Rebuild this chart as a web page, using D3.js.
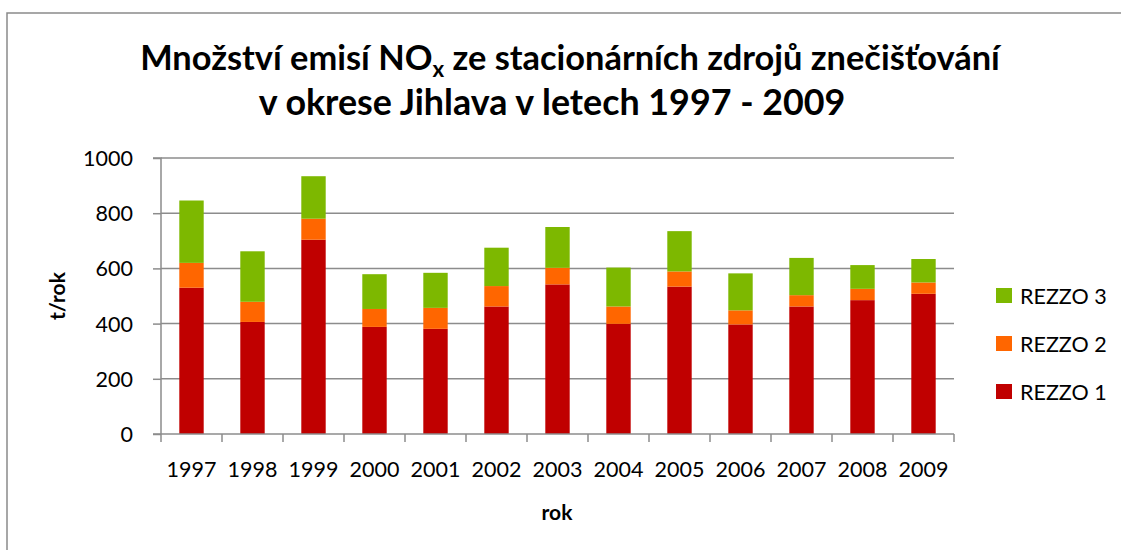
<!DOCTYPE html>
<html><head><meta charset="utf-8">
<script src="https://cdn.jsdelivr.net/npm/d3@7"></script>
<style>
html,body{margin:0;padding:0;background:#fff;}
text{font-family:Lato, "Open Sans", sans-serif;fill:#000;}
</style></head>
<body>
<svg id="chart" width="1121" height="550"></svg>
<script>
const years = ["1997","1998","1999","2000","2001","2002","2003","2004","2005","2006","2007","2008","2009"];
const rezzo1 = [530, 406, 704, 388, 381, 462, 542, 399, 534, 397, 462, 485, 508];
const rezzo2 = [90, 73, 76, 65, 76, 74, 60, 63, 55, 51, 41, 41, 41];
const rezzo3 = [226, 183, 154, 126, 127, 139, 148, 141, 146, 134, 135, 86, 85];
const seriesNames = ["REZZO 1", "REZZO 2", "REZZO 3"];
const seriesColors = ["#C00000", "#FF6600", "#7DB800"];
const yTicks = [0, 200, 400, 600, 800, 1000];

const svg = d3.select("#chart");
const W = 1121, H = 550;
const plot = {left: 161, right: 954, top: 158, bottom: 434};

// outer border
svg.append("path").attr("d", `M7,${H+2} L7,13 L${W+2},13`)
  .attr("fill", "none").attr("stroke", "#8a8a8a").attr("stroke-width", 1.5);

const x = d3.scaleBand().domain(years).range([plot.left, plot.right]).paddingInner(0.6).paddingOuter(0.3);
const xb = d3.scaleBand().domain(years).range([plot.left, plot.right]);
const y = d3.scaleLinear().domain([0, 1000]).range([plot.bottom, plot.top]);

// gridlines
svg.append("g").selectAll("line").data(yTicks.filter(d => d > 0)).join("line")
  .attr("x1", plot.left).attr("x2", plot.right)
  .attr("y1", d => y(d)).attr("y2", d => y(d))
  .attr("stroke", "#8c8c8c").attr("stroke-width", 1.5);

// stacked data
const table = years.map((yr, i) => ({year: yr, s0: rezzo1[i], s1: rezzo2[i], s2: rezzo3[i]}));
const stack = d3.stack().keys(["s0", "s1", "s2"])(table);

svg.append("g").selectAll("g").data(stack).join("g")
  .attr("fill", (d, i) => seriesColors[i])
  .selectAll("rect").data(d => d).join("rect")
  .attr("x", d => x(d.data.year))
  .attr("width", x.bandwidth())
  .attr("y", d => y(d[1]))
  .attr("height", d => y(d[0]) - y(d[1]));

// y axis
const yAxis = d3.axisLeft(y).tickValues(yTicks).tickSize(8).tickPadding(20).tickFormat(d3.format("d"));
const gy = svg.append("g").attr("transform", `translate(${plot.left},0)`).call(yAxis);
gy.select(".domain").attr("stroke", "#8c8c8c").attr("stroke-width", 1.5).attr("d", `M-8,${plot.top}H0V${plot.bottom}`);
gy.selectAll(".tick line").attr("stroke", "#8c8c8c").attr("stroke-width", 1.5);
gy.selectAll(".tick text").attr("font-size", 21.5).attr("font-family", "Lato").attr("fill", "#000").attr("dy", "0.35em");

// x axis: line and boundary ticks
const gx = svg.append("g");
gx.append("line").attr("x1", plot.left - 8).attr("x2", plot.right).attr("y1", plot.bottom).attr("y2", plot.bottom)
  .attr("stroke", "#8c8c8c").attr("stroke-width", 1.5);
const bounds = years.map(d => xb(d)).concat([plot.right]);
gx.selectAll("line.tk").data(bounds).join("line").attr("class", "tk")
  .attr("x1", d => d).attr("x2", d => d).attr("y1", plot.bottom).attr("y2", plot.bottom + 8)
  .attr("stroke", "#8c8c8c").attr("stroke-width", 1.5);
gx.selectAll("text").data(years).join("text")
  .attr("x", d => xb(d) + xb.bandwidth() / 2).attr("y", 477)
  .attr("text-anchor", "middle").attr("font-size", 21.5).text(d => d);

// axis titles
svg.append("text").attr("x", 557).attr("y", 520).attr("text-anchor", "middle")
  .attr("font-size", 21).attr("font-weight", "bold").text("rok");
svg.append("text").attr("transform", "translate(65,296) rotate(-90)").attr("text-anchor", "middle")
  .attr("font-size", 21).attr("font-weight", "bold").text("t/rok");

// title
function fitText(sel, target) {
  const len = sel.node().getComputedTextLength();
  const fs = parseFloat(sel.attr("font-size"));
  sel.attr("font-size", fs * target / len);
}
const t1 = svg.append("text").attr("x", 570).attr("y", 70).attr("text-anchor", "middle")
  .attr("font-size", 30).attr("font-weight", "bold");
t1.append("tspan").text("Množství emisí NO");
t1.append("tspan").attr("font-size", "0.65em").attr("dy", "0.3em").text("x");
t1.append("tspan").attr("dy", "-0.195em").text(" ze stacionárních zdrojů znečišťování");
fitText(t1, 860);
const t2 = svg.append("text").attr("x", 552).attr("y", 115).attr("text-anchor", "middle")
  .attr("font-size", 30).attr("font-weight", "bold").text("v okrese Jihlava v letech 1997 - 2009");
fitText(t2, 587);

// legend
const legendOrder = [2, 1, 0];
const lg = svg.append("g").selectAll("g").data(legendOrder).join("g")
  .attr("transform", (d, i) => `translate(996,${288 + i * 48})`);
lg.append("rect").attr("width", 16).attr("height", 15).attr("fill", d => seriesColors[d]);
lg.append("text").attr("x", 24).attr("y", 8).attr("dy", "0.35em").attr("font-size", 21.5).text(d => seriesNames[d]);
</script>
</body></html>
